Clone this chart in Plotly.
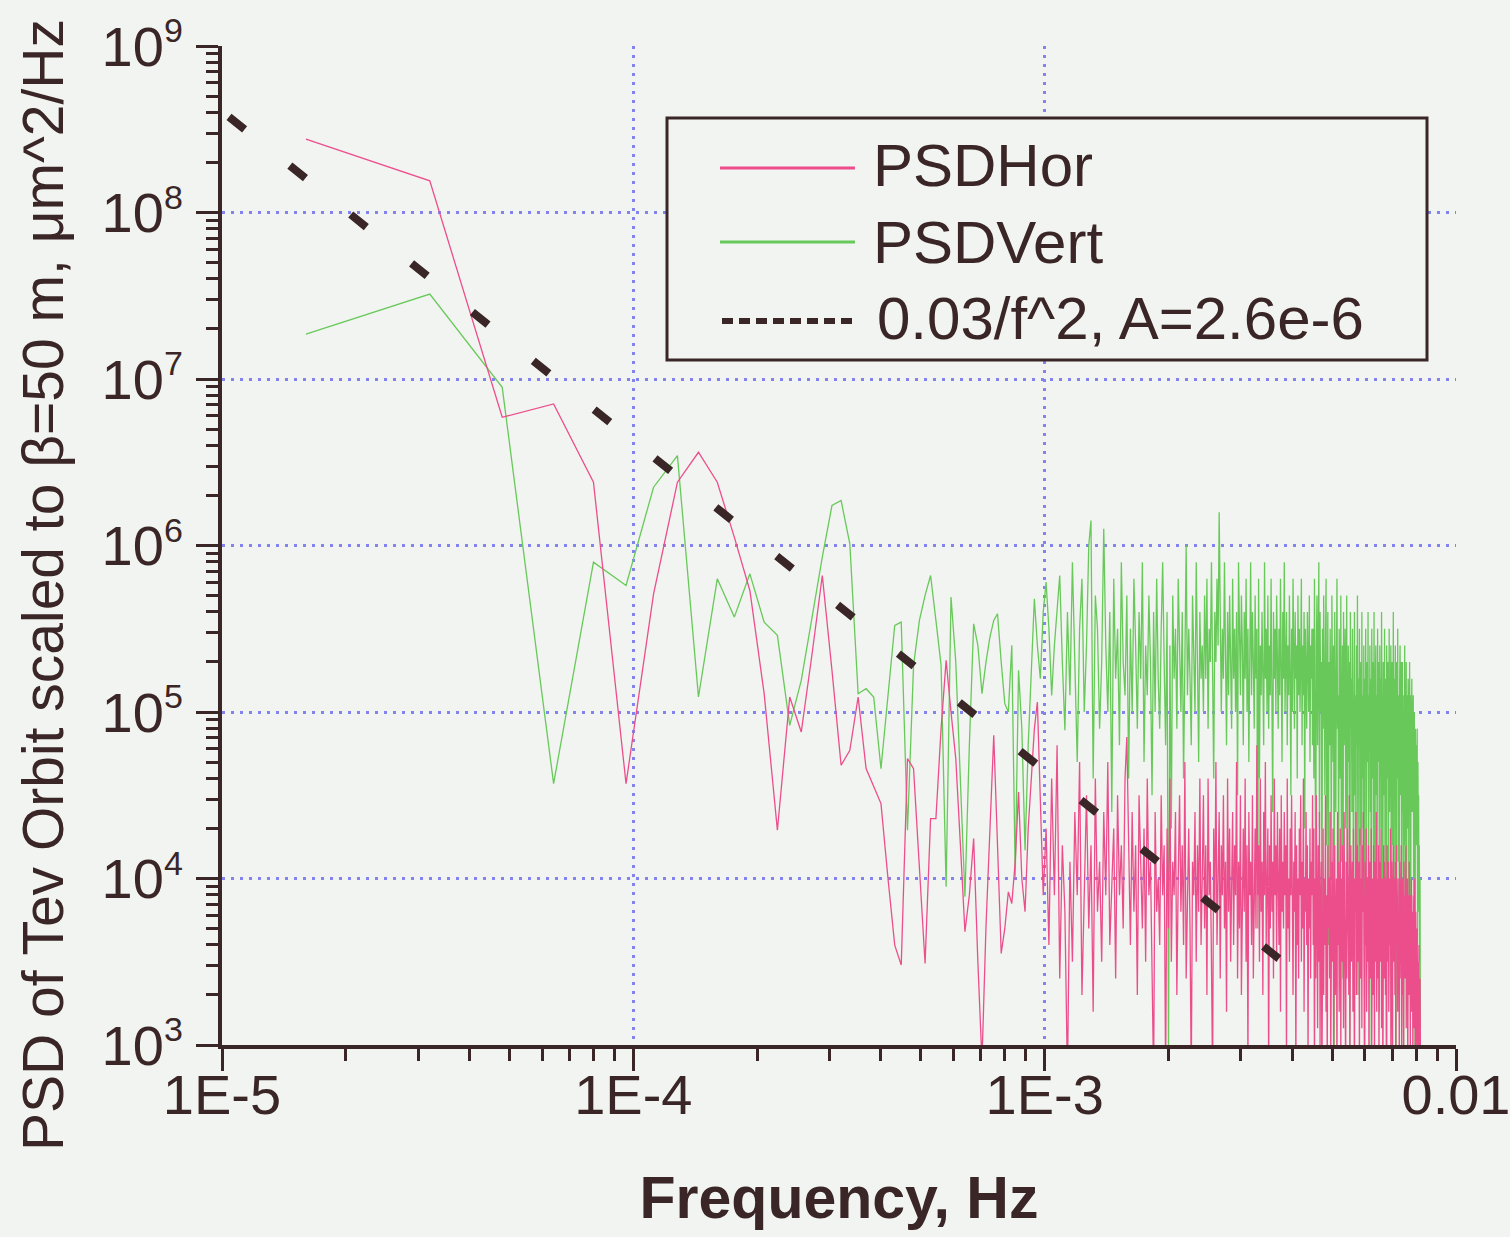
import plotly.graph_objects as go

# ---------------- data ----------------
DF = 1.6e-5  # frequency step of the spectra, Hz (first bin = DF)

# PSD values, stored as log10(PSD [um^2/Hz])
hor_low = [8.44, 8.19, 6.77, 6.85, 6.38, 4.57, 5.71, 6.38, 6.56, 6.38,
           6.05, 5.73, 5.11, 4.29, 5.09, 4.88, 5.35, 5.82, 5.25, 4.68,
           4.77, 5.09, 4.66, 4.55, 4.45, 4.0, 3.6, 3.48, 4.72, 4.66,
           4.1, 3.49, 4.36, 4.36, 4.9, 5.31, 5.0, 4.72, 4.2, 3.68,
           3.9, 4.24, 3.5, 2.9, 3.71, 4.3, 4.86, 4.2, 3.55, 3.7,
           3.92, 3.85, 4.1, 4.52, 4.0, 3.8, 4.3, 4.6, 4.9, 5.06,
           4.5, 3.9]
hor_mid = [4.3, 3.6, 4.6, 3.9, 4.8, 3.4, 4.2, 3.8, 2.8, 4.1,
           3.5, 4.4, 3.9, 4.7, 3.3, 4.0, 4.5, 3.7, 4.2, 3.2,
           4.6, 3.8, 4.1, 3.5, 4.4, 3.9, 4.7, 3.6, 4.0, 4.3,
           3.4, 4.5, 3.9, 4.2, 3.7, 4.6, 4.85, 4.1, 3.6, 4.4,
           3.8, 4.2, 3.3, 4.5, 4.0, 3.7, 4.3, 3.5, 4.6, 3.9,
           4.1, 3.4, 2.8, 4.4, 3.8, 4.0, 3.6, 4.5, 3.9, 4.2,
           2.8, 4.3, 3.7, 4.6, 3.5, 4.1, 3.9, 4.4, 3.3, 4.0,
           4.5, 3.8, 4.2, 3.6, 4.7, 3.4, 4.0, 4.3, 3.7, 2.8,
           4.1, 3.9, 4.4, 3.5, 4.2, 3.8, 4.6, 3.6]
hor_high = [4.0, 4.5, 3.7, 4.2, 3.3, 4.6, 3.9, 4.1, 3.5, 2.8,
            4.3, 3.8, 4.7, 3.6, 4.0, 4.4, 3.4, 4.2, 3.9, 4.5,
            3.7, 4.1, 3.2, 4.6, 3.8, 4.3, 3.5, 4.0, 4.4, 3.6,
            4.2, 3.9, 4.7, 3.4, 4.1, 3.7, 4.5, 3.3, 4.0, 4.3,
            3.8, 4.6, 3.5, 4.2, 2.9, 4.4, 3.9, 4.1, 3.6, 4.5,
            3.4, 4.0, 4.3, 3.7, 4.8, 3.9, 4.2, 3.5, 4.6, 3.8,
            4.1, 3.3, 4.4, 3.9, 4.7, 3.6, 4.0, 4.3, 2.8, 4.2,
            3.7, 4.5, 3.8, 4.1, 3.4, 4.6, 3.9, 4.2, 3.5, 4.4,
            4.0, 3.6, 4.3, 3.2, 4.5, 3.8, 4.1, 3.7, 4.4, 3.9,
            4.2, 2.9, 4.6, 3.7, 4.0, 3.5, 4.3, 3.9, 4.5, 3.6,
            3.3, 4.1, 3.8, 4.4, 2.8, 4.2, 3.6, 4.0, 3.4, 4.3,
            3.9, 4.5, 3.5, 4.1, 3.7, 4.6, 3.2, 4.0, 3.8, 4.4,
            3.6, 4.2, 2.9, 4.0, 3.7, 4.3, 3.4, 4.1, 3.9, 4.5]
hor_top = [3.6, 4.3, 2.8, 4.0, 3.4, 4.5, 3.7, 3.1, 4.2, 3.5,
           4.4, 3.0, 3.8, 4.1, 2.7, 3.9, 4.3, 3.3, 4.0, 3.6,
           4.5, 3.2, 3.9, 2.8, 4.2, 3.7, 4.0, 3.4, 4.4, 2.9,
           3.8, 4.1, 3.5, 4.3, 3.0, 3.9, 4.2, 3.3, 3.7, 4.0,
           2.7, 4.4, 3.6, 4.1, 3.2, 3.8, 4.3, 2.9, 4.0, 3.5,
           4.2, 3.7, 3.1, 4.4, 3.6, 3.9, 2.8, 4.1, 3.4, 4.3,
           3.8, 4.0, 3.3, 4.5, 2.9, 3.7, 4.2, 3.5, 3.9, 4.1,
           3.2, 4.3, 3.6, 2.7, 4.0, 3.8, 4.4, 3.3, 3.7, 4.2,
           3.5, 3.9, 4.1, 2.8, 4.3, 3.6, 3.4, 4.0, 3.1, 4.2,
           3.8, 4.4, 3.3, 3.9, 2.9, 4.1, 3.6, 4.3, 3.2, 3.7,
           4.0, 3.5, 4.2, 2.7, 3.8, 4.1, 3.4, 3.9, 4.3, 3.0,
           3.6, 4.0, 3.3, 4.2, 3.8, 2.8, 4.1, 3.5, 3.9, 4.4,
           3.2, 3.7, 4.0, 3.4, 4.2, 2.9, 3.8, 4.1, 3.5, 3.9,
           4.3, 3.1, 3.6, 4.0, 2.7, 3.9, 4.2, 3.4, 3.7, 4.1,
           3.3, 4.0, 3.8, 2.8, 4.2, 3.5, 3.9, 4.1, 3.2, 3.7,
           4.0, 3.6, 4.3, 3.0, 3.8, 4.1, 3.4, 2.7, 3.9, 4.2,
           3.5, 3.8, 4.0, 3.3, 4.1, 2.9, 3.7, 4.2, 3.6, 3.9,
           3.2, 4.0, 3.5, 3.8, 2.8, 4.1, 3.4, 3.9, 3.7, 4.2,
           3.0, 3.6, 4.0, 3.3, 3.8, 2.7, 4.1, 3.5, 3.9, 3.4,
           3.7, 4.2, 3.1, 3.8, 3.5, 4.0, 2.8, 3.6, 3.9, 3.3,
           4.1, 3.4, 3.7, 2.9, 3.9, 3.6, 4.0, 3.2, 3.5, 3.8,
           2.7, 3.9, 3.4, 3.7, 3.1, 4.0, 3.5, 2.8, 3.8, 3.3,
           3.6, 3.0, 3.7, 3.4, 2.7, 3.5, 3.2, 3.6, 2.9, 3.3,
           3.4, 3.0]

vert_low = [7.27, 7.51, 6.95, 4.57, 5.90, 5.76, 6.35, 6.54, 5.09, 5.80,
            5.57, 5.83, 5.54, 5.46, 4.92, 5.19, 5.57, 5.93, 6.24, 6.27,
            6.01, 5.11, 5.14, 5.09, 4.66, 5.1, 5.52, 5.54, 4.29, 5.28,
            5.55, 5.7, 5.82, 5.55, 5.28, 3.95, 5.69, 5.3, 4.6, 3.89,
            4.8, 5.53, 5.4, 5.11, 5.3, 5.45, 5.55, 5.59, 5.3, 5.05,
            5.0, 5.4, 4.01, 5.25, 4.9, 4.17, 4.8, 5.3, 5.68, 5.4,
            5.2, 5.6, 5.78, 5.5, 5.1, 5.4, 5.6, 5.82, 5.3, 4.89]
vert_mid = [5.6, 5.1, 5.9, 5.3, 4.7, 5.5, 5.8, 5.0, 5.4, 6.0,
            6.15, 4.6, 5.7, 5.5, 4.9, 5.3, 6.1, 5.4, 5.0, 5.6,
            4.4, 5.8, 5.2, 5.5, 4.8, 5.9, 5.3, 5.1, 5.7, 4.6,
            5.5, 5.0, 5.8, 5.4, 4.9, 5.6, 5.2, 5.9, 4.7, 5.4,
            5.1, 5.7, 5.3, 4.5, 5.6, 5.0, 5.8, 5.2, 4.9, 5.5,
            5.9, 5.3, 4.8, 5.6, 2.9, 5.4, 4.3, 5.7, 5.2, 5.5,
            4.9, 5.8, 5.4, 5.0, 5.6, 4.6, 5.3, 6.0, 5.1, 5.5,
            5.2, 4.8, 5.7, 5.4, 5.0, 5.9, 5.3, 4.7, 5.6, 5.2]
vert_high = [5.4, 5.0, 5.7, 5.2, 5.8, 4.9, 5.5, 5.3, 5.9, 5.1,
             4.6, 5.6, 5.3, 5.8, 5.4, 6.2, 5.7, 5.0, 5.5, 5.2,
             5.9, 5.3, 4.8, 5.6, 5.1, 5.7, 5.4, 4.9, 5.8, 5.2,
             5.5, 5.0, 5.6, 4.5, 5.9, 5.3, 5.1, 5.7, 5.4, 4.8,
             5.6, 5.2, 5.8, 5.0, 5.5, 4.7, 5.4, 5.9, 5.1, 5.6,
             5.3, 4.9, 5.7, 5.2, 5.5, 3.7, 5.8, 4.6, 5.4, 5.1,
             5.6, 5.3, 4.8, 5.9, 5.2, 5.5, 5.0, 5.7, 4.9, 5.4,
             5.1, 5.8, 5.3, 4.4, 5.6, 5.2, 5.5, 5.0, 5.7, 5.3,
             4.9, 5.5, 5.1, 5.8, 5.4, 4.7, 5.6, 5.2, 5.9, 5.0,
             5.3, 5.6, 4.8, 5.4, 5.1, 5.7, 5.2, 4.5, 5.5, 5.0,
             5.8, 5.3, 4.9, 5.6, 5.2, 5.4, 4.6, 5.7, 5.1, 5.5,
             5.0, 5.3, 5.8, 4.8, 5.4, 5.1, 5.6, 4.3, 5.5, 5.2,
             4.9, 5.6, 5.3, 5.0, 5.7, 4.7, 5.4, 5.2, 5.5, 4.8]
vert_top = [5.5, 4.6, 5.8, 5.1, 3.9, 5.4, 5.7, 4.8, 5.2, 5.9,
            4.3, 5.6, 5.0, 5.3, 3.2, 5.5, 4.9, 5.7, 5.1, 4.5,
            5.4, 5.8, 4.2, 5.0, 5.6, 3.6, 5.3, 4.8, 5.5, 5.1,
            4.0, 5.7, 5.2, 4.7, 5.4, 2.9, 5.6, 5.0, 4.4, 5.3,
            5.8, 4.9, 5.1, 3.8, 5.5, 5.2, 4.6, 5.7, 4.1, 5.0,
            5.4, 3.4, 5.6, 4.8, 5.2, 5.5, 4.3, 5.0, 5.7, 3.9,
            5.1, 5.4, 4.7, 5.3, 2.8, 5.6, 4.9, 5.2, 4.4, 5.5,
            5.0, 3.7, 5.3, 5.6, 4.5, 5.1, 4.0, 5.4, 4.8, 5.7,
            3.3, 5.2, 4.9, 5.5, 4.2, 5.0, 5.3, 3.8, 5.6, 4.6,
            5.1, 4.3, 5.4, 3.0, 5.2, 4.8, 5.5, 4.1, 5.0, 5.3,
            4.7, 5.6, 3.5, 5.1, 4.9, 5.4, 4.4, 5.2, 2.9, 5.5,
            5.0, 4.6, 5.3, 4.0, 5.6, 4.8, 3.6, 5.2, 5.4, 4.5,
            5.1, 3.9, 5.5, 4.7, 5.0, 5.3, 3.2, 5.4, 4.9, 5.2,
            4.3, 5.6, 4.8, 5.1, 3.7, 5.3, 5.0, 4.5, 5.5, 4.1,
            5.2, 4.9, 2.8, 5.4, 4.6, 5.1, 5.3, 3.9, 5.0, 5.5,
            4.4, 5.2, 4.7, 5.4, 3.4, 5.0, 5.3, 4.8, 4.2, 5.6,
            5.1, 3.8, 5.2, 4.9, 5.4, 4.3, 3.0, 5.3, 5.0, 4.6,
            5.5, 4.1, 5.1, 4.8, 3.6, 5.2, 5.4, 4.5, 4.9, 5.3,
            3.9, 5.0, 5.3, 4.4, 5.1, 2.9, 5.2, 4.8, 5.4, 4.2,
            5.0, 4.7, 5.3, 3.5, 5.1, 4.9, 4.3, 5.2, 5.0, 3.8,
            4.6, 5.3, 4.9, 5.1, 3.2, 5.0, 4.8, 5.2, 4.4, 4.9,
            4.7, 5.1, 3.9, 4.8, 5.0, 4.5, 2.9, 4.9, 4.6, 4.2,
            4.8, 4.4, 4.9, 3.6, 4.7, 4.3, 4.5, 3.8, 4.2, 3.5,
            4.0, 3.1]

# reference power law 0.03/f^2 (end points)
fit_f = [1.04e-5, 3.71e-3]
fit_p = [3.75e8, 3.3e3]

x_tickvals = [1e-5, 1e-4, 1e-3, 1e-2]
x_ticktext = ["1E-5", "1E-4", "1E-3", "0.01"]
y_exponents = [3, 4, 5, 6, 7, 8, 9]

legend_names = ["PSDHor", "PSDVert", "0.03/f^2, A=2.6e-6"]
x_title = "Frequency, Hz"
y_title = "PSD of Tev Orbit scaled to β=50 m, μm^2/Hz"

# ---------------- build ----------------
hor = [10 ** v for v in hor_low + hor_mid + hor_high + hor_top]
vert = [10 ** v for v in vert_low + vert_mid + vert_high + vert_top]
f_hor = [DF * (i + 1) for i in range(len(hor))]
f_vert = [DF * (i + 1) for i in range(len(vert))]

PINK = "#ec4e8c"
GREEN = "#68c95a"
DARK = "#3a2626"
BG = "#f1f4f0"
GRID = "#8383ee"
FONT = "Liberation Sans, Arial, sans-serif"

W, H = 1510, 1237
ML, MR, MT, MB = 222, 54, 46, 192
PW, PH = W - ML - MR, H - MT - MB


def px(x):
    return (x - ML) / PW


def py(y):
    return 1 - (y - MT) / PH


fig = go.Figure()
fig.add_trace(go.Scatter(x=f_vert, y=vert, mode="lines", name=legend_names[1],
                         line=dict(color=GREEN, width=1.3), showlegend=False))
fig.add_trace(go.Scatter(x=f_hor, y=hor, mode="lines", name=legend_names[0],
                         line=dict(color=PINK, width=1.3), showlegend=False))
fig.add_trace(go.Scatter(x=fit_f, y=fit_p, mode="lines", name=legend_names[2],
                         line=dict(color=DARK, width=8, dash="20px,58px"),
                         showlegend=False))

minor_x = [m * 10 ** e for e in (-5, -4, -3) for m in range(2, 10)]
minor_y = [m * 10 ** e for e in range(3, 9) for m in range(2, 10)]

fig.update_xaxes(
    type="log", range=[-5, -2],
    tickmode="array", tickvals=x_tickvals, ticktext=x_ticktext,
    ticks="outside", ticklen=22, tickwidth=3, tickcolor=DARK,
    minor=dict(tickmode="array", tickvals=minor_x, ticks="outside",
               ticklen=12, tickwidth=2.5, tickcolor=DARK, showgrid=False),
    showline=True, linewidth=4, linecolor=DARK,
    showgrid=True, gridcolor=GRID, gridwidth=2.5, griddash="3px,6px",
    tickfont=dict(family=FONT, size=56, color=DARK),
    ticklabelstandoff=-24, ticklabeloverflow="allow",
    title=dict(text="<b>%s</b>" % x_title, standoff=52,
               font=dict(family=FONT, size=59, color=DARK)),
)
fig.update_yaxes(
    type="log", range=[3, 9],
    tickmode="array", tickvals=[10 ** e for e in y_exponents],
    ticktext=["10<sup><span style='font-size:34px'>%d</span></sup>" % e
              for e in y_exponents],
    ticks="outside", ticklen=22, tickwidth=3, tickcolor=DARK,
    minor=dict(tickmode="array", tickvals=minor_y, ticks="outside",
               ticklen=12, tickwidth=2.5, tickcolor=DARK, showgrid=False),
    showline=True, linewidth=4, linecolor=DARK,
    showgrid=True, gridcolor=GRID, gridwidth=2.5, griddash="3px,6px",
    tickfont=dict(family=FONT, size=56, color=DARK),
    ticklabelstandoff=2, ticklabeloverflow="allow",
)

# legend box drawn by hand (wide line samples as in the original)
shapes = [
    dict(type="rect", xref="paper", yref="paper", layer="above",
         x0=px(667), x1=px(1427), y0=py(360), y1=py(118),
         fillcolor=BG, line=dict(color=DARK, width=3)),
    dict(type="line", xref="paper", yref="paper", layer="above",
         x0=px(720), x1=px(855), y0=py(168), y1=py(168),
         line=dict(color=PINK, width=3)),
    dict(type="line", xref="paper", yref="paper", layer="above",
         x0=px(720), x1=px(855), y0=py(242), y1=py(242),
         line=dict(color=GREEN, width=3)),
    dict(type="line", xref="paper", yref="paper", layer="above",
         x0=px(722), x1=px(856), y0=py(321), y1=py(321),
         line=dict(color=DARK, width=6, dash="11px,6px")),
]
annotations = []
for name, yy, xx in zip(legend_names, (166, 242, 318), (871, 871, 875)):
    annotations.append(dict(xref="paper", yref="paper", x=px(xx), y=py(yy),
                            xanchor="left", yanchor="middle", showarrow=False,
                            text=name, font=dict(family=FONT, size=60, color=DARK)))
# y-axis title (placed like the original: slightly below the axis centre)
annotations.append(dict(xref="paper", yref="paper", x=px(43), y=py(585),
                        xanchor="center", yanchor="middle", showarrow=False,
                        textangle=-90, text=y_title,
                        font=dict(family=FONT, size=57, color=DARK)))

fig.update_layout(
    width=W, height=H,
    margin=dict(l=ML, r=MR, t=MT, b=MB, autoexpand=False),
    paper_bgcolor=BG, plot_bgcolor=BG,
    showlegend=False,
    shapes=shapes, annotations=annotations,
    font=dict(family=FONT, color=DARK),
)

fig.write_html(
    "out.html",
    config={"displayModeBar": False},
    post_script="document.body.style.margin='0px';"
                "document.body.style.background='%s';" % BG,
)
